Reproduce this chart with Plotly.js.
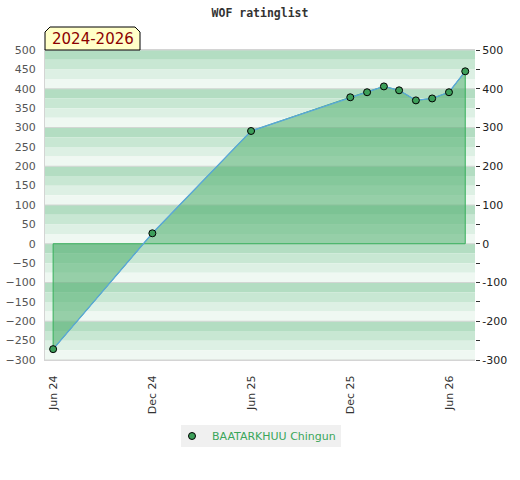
<!DOCTYPE html>
<html>
<head>
<meta charset="utf-8">
<script src="https://cdn.plot.ly/plotly-3.0.1.min.js"></script>
<style>html,body{margin:0;padding:0;background:#fff;}#chart{width:520px;height:480px;}</style>
</head>
<body>
<div id="chart"></div>
<script>
// ---- data ----
const playerName = "BAATARKHUU Chingun";
const chartTitle = "WOF ratinglist";
const periodLabel = "2024-2026";
const dates = ["2024-06-01","2024-12-01","2025-06-01","2025-12-01","2026-01-01","2026-02-01","2026-03-01","2026-04-01","2026-05-01","2026-06-01","2026-07-01"];
const ratings = [-272, 27, 291, 378, 391, 406, 396, 370, 375, 391, 445];
const tickDates = ["2024-06-01","2024-12-01","2025-06-01","2025-12-01","2026-06-01"];
const leftTicks = [500,450,400,350,300,250,200,150,100,50,0,-50,-100,-150,-200,-250,-300];
const rightTicks = [500,450,400,350,300,250,200,150,100,50,0,-50,-100,-150,-200,-250,-300];

// ---- geometry helpers (pixels -> paper) ----
const W = 520, H = 480, L = 45, R = 45, T = 50, B = 120;
const pw = W - L - R, ph = H - T - B;
const px = x => (x - L) / pw;
const py = y => (H - B - y) / ph;

// background stripes & grid
const stripeColors = ["#b3ddc2", "#c8e7d3", "#ddf0e4", "#eff8f2"];
const shapes = [];
for (let top = 500; top > -300; top -= 100) {
  for (let k = 0; k < 4; k++) {
    shapes.push({type:"rect", xref:"paper", yref:"y", x0:0, x1:1, y0: top - 25*k, y1: top - 25*(k+1),
      fillcolor: stripeColors[k], line:{width:0}, layer:"below"});
  }
}
for (let v = 500; v >= -300; v -= 100) {
  shapes.push({type:"line", xref:"paper", yref:"y", x0:0, x1:1, y0:v, y1:v,
    line:{color:"#d2d6d3", width:1}, layer:"below"});
}
// badge box with chamfered top corners
const bx0 = 45, bx1 = 140, by0 = 27, by1 = 50, ch = 5;
shapes.push({type:"path", xref:"paper", yref:"paper",
  path: `M ${px(bx0)} ${py(by1)} L ${px(bx0)} ${py(by0+ch)} L ${px(bx0+ch)} ${py(by0)} L ${px(bx1-ch)} ${py(by0)} L ${px(bx1)} ${py(by0+ch)} L ${px(bx1)} ${py(by1)} Z`,
  fillcolor:"#ffffc8", line:{color:"#000", width:1}, layer:"above"});
// legend background box
shapes.push({type:"rect", xref:"paper", yref:"paper", x0:px(181), x1:px(341), y0:py(447), y1:py(425),
  fillcolor:"#f0f0f0", line:{width:0}, layer:"above"});

// area polygon built from data
const polyX = [dates[0]].concat(dates, [dates[dates.length-1], dates[0]]);
const polyY = [0].concat(ratings, [0, 0]);

const traces = [
  {x: polyX, y: polyY, type:"scatter", mode:"lines", fill:"toself",
   fillcolor:"rgba(82,176,112,0.57)", line:{color:"#35b05a", width:1},
   showlegend:false, hoverinfo:"skip"},
  {x: dates, y: ratings, type:"scatter", mode:"lines",
   line:{color:"#5ba6dc", width:1.3}, showlegend:false, hoverinfo:"skip"},
  {x: dates, y: ratings, type:"scatter", mode:"markers", name: playerName,
   marker:{size:7, color:"#3d9f5a", line:{color:"#000", width:1}}, hoverinfo:"skip"},
  {x: [dates[0]], y:[0], yaxis:"y2", type:"scatter", mode:"markers",
   marker:{opacity:0}, showlegend:false, hoverinfo:"skip"}
];

const layout = {
  width: W, height: H,
  margin: {l:L, r:R, t:T, b:B, pad:0},
  paper_bgcolor:"#fff", plot_bgcolor:"rgba(0,0,0,0)",
  title: {text: chartTitle, x: 0.5, xanchor:"center", y: 1 - 13/H, yanchor:"middle",
    font:{family:"DejaVu Sans Mono", size:11.5, color:"#333", weight:"bold"}},
  xaxis: {type:"date", range:["2024-05-17","2026-07-19"], tickvals: tickDates, tickformat:"%b %y",
    tickangle:-90, ticks:"outside", ticklen:10, tickcolor:"rgba(0,0,0,0)",
    showgrid:false, zeroline:false, showline:true, linecolor:"#d4d4d4", linewidth:1, mirror:true,
    tickfont:{family:"DejaVu Sans", size:11, color:"#333"}, fixedrange:true},
  yaxis: {range:[-300,500], tickvals: leftTicks, ticks:"outside", ticklen:6, tickcolor:"rgba(0,0,0,0)",
    showgrid:false, zeroline:false, showline:true, linecolor:"#d4d4d4", linewidth:1,
    tickfont:{family:"DejaVu Sans", size:11, color:"#555"}, fixedrange:true},
  yaxis2: {range:[-300,500], overlaying:"y", side:"right", tickvals: rightTicks,
    ticktext: rightTicks.map(v => (v % 100 === 0 ? String(v) : "")),
    ticks:"outside", ticklen:4, tickcolor:"#333", showgrid:false, zeroline:false, showline:false,
    tickfont:{family:"DejaVu Sans", size:11, color:"#222"}, fixedrange:true},
  shapes: shapes,
  annotations: [{xref:"paper", yref:"paper", x: px((bx0+bx1)/2), y: py((by0+by1)/2 + 1),
    xanchor:"center", yanchor:"middle", text: periodLabel, showarrow:false,
    font:{family:"DejaVu Sans", size:15, color:"#8b0000"}}],
  legend: {orientation:"h", x: px(172), xanchor:"left", y: py(436), yanchor:"middle",
    bgcolor:"rgba(0,0,0,0)", borderwidth:0,
    font:{family:"DejaVu Sans", size:11, color:"#3aa65a"}},
  showlegend: true,
  hovermode: false
};

Plotly.newPlot("chart", traces, layout, {staticPlot:true, displayModeBar:false});
</script>
</body>
</html>
